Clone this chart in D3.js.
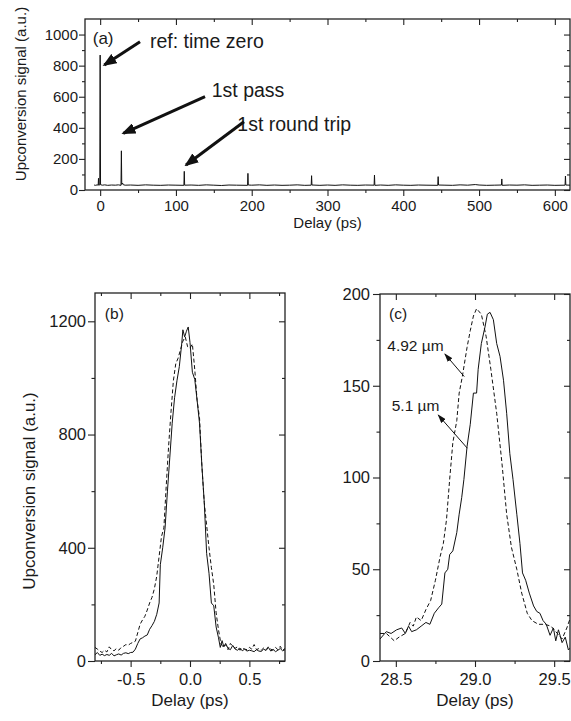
<!DOCTYPE html>
<html>
<head>
<meta charset="utf-8">
<script src="https://cdn.jsdelivr.net/npm/d3@7"></script>
<style>
  body { margin: 0; background: #fff; }
  text { font-family: "Liberation Sans", Arial, sans-serif; fill: #1a1a1a; }
</style>
</head>
<body>
<svg id="chart"></svg>
<script>
// ---- data ----

// (a) long scan: [delay ps, signal a.u.]
const scanA = [
  [-8,32],[-6,30],[-4,33],[-2.6,31],[-2.2,75],[-1.8,31],[-0.5,33],[0,868],[0.5,34],[3,31],[6,33],
  [10,30],[15,32],[20,31],[24,33],[27.5,30],[28,252],[28.5,36],[29.5,45],[30.5,34],[33,31],[40,32],
  [50,30],[60,33],[70,31],[80,30],[90,32],[100,31],[110.5,30],[111,120],[111.5,31],[120,32],[130,30],
  [140,33],[150,31],[160,29],[170,32],[180,31],[194.5,30],[195,107],[195.5,32],[200,31],[210,33],
  [220,30],[230,32],[240,30],[250,31],[260,33],[270,30],[278.5,31],[279,92],[279.5,32],[290,30],
  [300,32],[310,30],[320,33],[330,31],[340,30],[350,32],[361.5,31],[362,96],[362.5,30],[370,32],
  [380,30],[390,33],[400,31],[410,30],[420,32],[430,31],[445.5,30],[446,86],[446.5,32],[455,31],
  [465,30],[475,33],[485,31],[495,35],[500,32],[510,30],[520,31],[529.5,32],[530,71],[530.5,30],
  [540,32],[550,31],[560,33],[570,30],[580,31],[590,32],[600,30],[613.5,31],[614,90],[614.5,32],[620,31]
];

// (b) time zero, solid and dashed
const zeroSolid = [
  [-0.80,22],[-0.78,30],[-0.76,20],[-0.74,24],[-0.72,19],[-0.70,23],[-0.68,20],[-0.66,27],[-0.64,18],
  [-0.62,22],[-0.60,25],[-0.58,21],[-0.56,27],[-0.54,29],[-0.52,26],[-0.50,30],[-0.48,31],[-0.46,42],
  [-0.44,62],[-0.42,78],[-0.40,82],[-0.38,88],[-0.36,92],[-0.34,112],[-0.32,125],[-0.30,140],
  [-0.28,165],[-0.26,205],[-0.25,340],[-0.23,400],[-0.21,470],[-0.19,600],[-0.17,720],[-0.15,840],
  [-0.13,930],[-0.11,990],[-0.09,1040],[-0.07,1120],[-0.06,1170],[-0.045,1145],[-0.03,1165],
  [-0.015,1180],[0.0,1125],[0.02,1020],[0.04,995],[0.06,920],[0.08,840],[0.10,690],[0.12,560],
  [0.14,380],[0.16,310],[0.18,205],[0.20,195],[0.22,120],[0.24,82],[0.255,48],[0.27,72],[0.285,50],
  [0.30,62],[0.32,45],[0.34,40],[0.36,55],[0.38,42],[0.40,38],[0.42,46],[0.44,36],[0.46,42],[0.48,35],
  [0.50,38],[0.52,36],[0.54,33],[0.56,40],[0.58,35],[0.60,34],[0.62,42],[0.64,37],[0.66,48],[0.68,35],
  [0.70,41],[0.72,33],[0.74,38],[0.76,44],[0.78,36],[0.80,40]
];
const zeroDashed = [
  [-0.80,48],[-0.78,42],[-0.76,35],[-0.74,30],[-0.72,38],[-0.70,32],[-0.68,50],[-0.66,40],[-0.64,36],
  [-0.62,44],[-0.60,38],[-0.58,48],[-0.56,52],[-0.54,58],[-0.52,56],[-0.50,62],[-0.48,66],[-0.46,70],
  [-0.44,100],[-0.42,130],[-0.40,145],[-0.38,158],[-0.36,180],[-0.34,205],[-0.32,225],[-0.30,255],
  [-0.28,300],[-0.26,370],[-0.24,440],[-0.22,470],[-0.20,620],[-0.18,760],[-0.16,880],[-0.14,990],
  [-0.12,1050],[-0.10,1070],[-0.08,1100],[-0.06,1130],[-0.04,1145],[-0.02,1110],[0.00,1105],
  [0.02,1120],[0.04,1030],[0.06,920],[0.08,860],[0.10,690],[0.12,560],[0.14,480],[0.16,400],
  [0.18,330],[0.20,270],[0.22,170],[0.24,110],[0.26,62],[0.28,48],[0.30,58],[0.32,40],[0.34,62],
  [0.36,52],[0.38,45],[0.40,50],[0.42,38],[0.44,46],[0.46,42],[0.48,40],[0.50,48],[0.52,42],[0.54,58],
  [0.56,40],[0.58,44],[0.60,38],[0.62,46],[0.64,40],[0.66,50],[0.68,42],[0.70,38],[0.72,48],[0.74,40],
  [0.76,52],[0.78,38],[0.80,44]
];

// (c) first pass, 5.1 um (solid) and 4.92 um (dashed)
const passSolid = [
  [28.40,12],[28.44,16],[28.47,15],[28.505,17],[28.537,18],[28.56,15],[28.58,19],[28.60,16],
  [28.63,17],[28.66,19],[28.69,21],[28.715,20],[28.743,26],[28.77,29],[28.79,31],[28.81,48],
  [28.828,50],[28.84,58],[28.86,60],[28.885,70],[28.90,80],[28.916,89],[28.93,99],[28.95,117],
  [28.97,129],[28.99,146],[29.01,146],[29.02,159],[29.04,173],[29.063,182],[29.078,189],[29.095,190],
  [29.116,186],[29.137,173],[29.158,166],[29.18,153],[29.20,135],[29.22,113],[29.24,99],[29.264,80],
  [29.284,64],[29.30,48],[29.32,44],[29.343,37],[29.37,30],[29.39,27],[29.41,26],[29.43,22],
  [29.45,20],[29.474,14],[29.495,18],[29.51,11],[29.527,17],[29.55,10],[29.57,13],[29.59,6],[29.60,7]
];
const passDashed = [
  [28.40,15],[28.44,15],[28.49,11],[28.52,13],[28.56,15],[28.59,21],[28.61,19],[28.63,24],[28.66,22],
  [28.69,28],[28.72,33],[28.75,44],[28.78,57],[28.80,64],[28.82,77],[28.84,99],[28.86,119],
  [28.885,131],[28.90,146],[28.92,155],[28.95,171],[28.97,180],[28.99,188],[29.01,192],[29.04,189],
  [29.07,177],[29.10,159],[29.137,135],[29.17,108],[29.20,80],[29.23,62],[29.264,50],[29.295,37],
  [29.33,26],[29.36,22],[29.40,20],[29.44,20],[29.48,19],[29.52,15],[29.55,12],[29.58,18],[29.60,23]
];

// tick values
const ticksA = { xmajor: [0,100,200,300,400,500,600], xminor: [50,150,250,350,450,550],
                 ymajor: [0,200,400,600,800,1000], yminor: [100,300,500,700,900] };
const ticksB = { xmajor: [-0.5,0,0.5], xminor: [-0.75,-0.25,0.25,0.75],
                 ymajor: [0,400,800,1200], yminor: [200,600,1000] };
const ticksC = { xmajor: [28.5,29,29.5], xminor: [28.75,29.25],
                 ymajor: [0,50,100,150,200], yminor: [25,75,125,175] };

const W = 571, H = 721;
const svg = d3.select('#chart').attr('width', W).attr('height', H);

const defs = svg.append('defs');
defs.append('marker').attr('id', 'headBig')
    .attr('markerUnits', 'userSpaceOnUse')
    .attr('markerWidth', 14).attr('markerHeight', 11)
    .attr('refX', 12).attr('refY', 5.5).attr('orient', 'auto')
  .append('path').attr('d', 'M0,0 L14,5.5 L0,11 Z').attr('fill', '#111');
defs.append('marker').attr('id', 'headSmall')
    .attr('markerUnits', 'userSpaceOnUse')
    .attr('markerWidth', 9).attr('markerHeight', 6)
    .attr('refX', 8).attr('refY', 3).attr('orient', 'auto')
  .append('path').attr('d', 'M0,0 L9,3 L0,6 Z').attr('fill', '#111');

class Panel {
    constructor(config) {
        this.config = config;
        this.init();
    }

    init() {
        let self = this;
        const c = self.config;

        self.xscale = d3.scaleLinear().domain(c.xdomain).range([c.left, c.right]);
        self.yscale = d3.scaleLinear().domain(c.ydomain).range([c.bottom, c.top]);

        self.chart = svg.append('g');

        defs.append('clipPath').attr('id', 'clip-' + c.id)
          .append('rect')
            .attr('x', c.left).attr('y', c.top)
            .attr('width', c.right - c.left).attr('height', c.bottom - c.top);

        const t = c.ticks;
        const none = () => '';
        // bottom: outward
        self.axis(d3.axisBottom(self.xscale).tickValues(t.xmajor).tickSize(6).tickPadding(c.xpad).tickFormat(c.xformat),
                  `translate(0,${c.bottom})`);
        self.axis(d3.axisBottom(self.xscale).tickValues(t.xminor).tickSize(3).tickFormat(none),
                  `translate(0,${c.bottom})`);
        // top: inward
        self.axis(d3.axisTop(self.xscale).tickValues(t.xmajor).tickSize(-6).tickFormat(none),
                  `translate(0,${c.top})`);
        self.axis(d3.axisTop(self.xscale).tickValues(t.xminor).tickSize(-3).tickFormat(none),
                  `translate(0,${c.top})`);
        // left: outward
        self.axis(d3.axisLeft(self.yscale).tickValues(t.ymajor).tickSize(c.ytick).tickPadding(c.ypad).tickFormat(d3.format('d')),
                  `translate(${c.left},0)`);
        self.axis(d3.axisLeft(self.yscale).tickValues(t.yminor).tickSize(c.ytick / 2).tickFormat(none),
                  `translate(${c.left},0)`);
        // right: inward
        self.axis(d3.axisRight(self.yscale).tickValues(t.ymajor).tickSize(-6).tickFormat(none),
                  `translate(${c.right},0)`);
        self.axis(d3.axisRight(self.yscale).tickValues(t.yminor).tickSize(-3).tickFormat(none),
                  `translate(${c.right},0)`);

        self.chart.append('rect')
            .attr('x', c.left).attr('y', c.top)
            .attr('width', c.right - c.left).attr('height', c.bottom - c.top)
            .attr('fill', 'none').attr('stroke', '#222').attr('stroke-width', 1.3);

        self.plot = self.chart.append('g').attr('clip-path', `url(#clip-${c.id})`);
    }

    axis(gen, transform) {
        const g = this.chart.append('g').attr('transform', transform).call(gen);
        g.select('.domain').remove();
        g.selectAll('line').attr('stroke', '#222').attr('stroke-width', 1.1);
        g.selectAll('text').style('font-size', this.config.fontSize + 'px').attr('fill', '#1a1a1a');
        return g;
    }

    line(data, dash) {
        let self = this;
        const gen = d3.line().x(d => self.xscale(d[0])).y(d => self.yscale(d[1]));
        self.plot.append('path')
            .datum(data)
            .attr('d', gen)
            .attr('fill', 'none')
            .attr('stroke', '#111')
            .attr('stroke-width', 1)
            .attr('stroke-dasharray', dash || null)
            .attr('stroke-linejoin', 'round');
    }

    label(x, y, str, size) {
        this.chart.append('text')
            .attr('x', this.xscale(x)).attr('y', this.yscale(y))
            .style('font-size', size + 'px')
            .text(str);
    }

    arrow(x1, y1, x2, y2, width, head) {
        this.chart.append('line')
            .attr('x1', this.xscale(x1)).attr('y1', this.yscale(y1))
            .attr('x2', this.xscale(x2)).attr('y2', this.yscale(y2))
            .attr('stroke', '#111').attr('stroke-width', width)
            .attr('marker-end', `url(#${head})`);
    }

    xtitle(str, y) {
        const c = this.config;
        this.chart.append('text')
            .attr('x', (c.left + c.right) / 2).attr('y', y)
            .attr('text-anchor', 'middle')
            .style('font-size', c.titleSize + 'px')
            .text(str);
    }

    ytitle(str, x, y) {
        this.chart.append('text')
            .attr('transform', `translate(${x},${y}) rotate(-90)`)
            .attr('text-anchor', 'middle')
            .attr('dy', '0.35em')
            .style('font-size', this.config.titleSize + 'px')
            .text(str);
    }
}

const fmt1 = d => d.toFixed(1);

// (a)
const pa = new Panel({
    id: 'a', left: 85, right: 570, top: 19, bottom: 190,
    xdomain: [-20, 620], ydomain: [0, 1100], ticks: ticksA,
    xformat: d3.format('d'), xpad: 4, ypad: 1, ytick: 6, fontSize: 15, titleSize: 15
});
pa.line(scanA);
pa.label(-9.8, 939, '(a)', 17);
pa.label(65.8, 916, 'ref: time zero', 19.5);
pa.label(147.2, 596, '1st pass', 19.5);
pa.label(181, 380, '1st round trip', 19.5);
pa.arrow(52.6, 954, 5.5, 804, 3, 'headBig');
pa.arrow(138.4, 600, 30.5, 365, 3, 'headBig');
pa.arrow(189.8, 439, 113.3, 161, 3, 'headBig');
pa.xtitle('Delay (ps)', 228);
pa.ytitle('Upconversion signal (a.u.)', 21, 94);

// (b)
const pb = new Panel({
    id: 'b', left: 95, right: 285, top: 293, bottom: 661,
    xdomain: [-0.8, 0.8], ydomain: [0, 1300], ticks: ticksB,
    xformat: fmt1, xpad: 6, ypad: 2, ytick: 7, fontSize: 16.5, titleSize: 17
});
pb.line(zeroDashed, '4,2.5');
pb.line(zeroSolid);
pb.label(-0.717, 1208, '(b)', 15.5);
pb.xtitle('Delay (ps)', 706);
pb.ytitle('Upconversion signal (a.u.)', 29, 491);

// (c)
const pc = new Panel({
    id: 'c', left: 380, right: 570, top: 294, bottom: 661,
    xdomain: [28.4, 29.6], ydomain: [0, 200], ticks: ticksC,
    xformat: fmt1, xpad: 6, ypad: 3, ytick: 7, fontSize: 16.5, titleSize: 17
});
pc.line(passDashed, '4,2.5');
pc.line(passSolid);
pc.label(28.457, 186.4, '(c)', 15.5);
pc.label(28.446, 169, '4.92 \u00b5m', 15.5);
pc.label(28.474, 136.2, '5.1 \u00b5m', 15.5);
pc.arrow(28.932, 155, 28.81, 167.3, 1, 'headSmall');
pc.arrow(28.951, 116, 28.768, 134, 1, 'headSmall');
pc.xtitle('Delay (ps)', 706);
</script>
</body>
</html>
